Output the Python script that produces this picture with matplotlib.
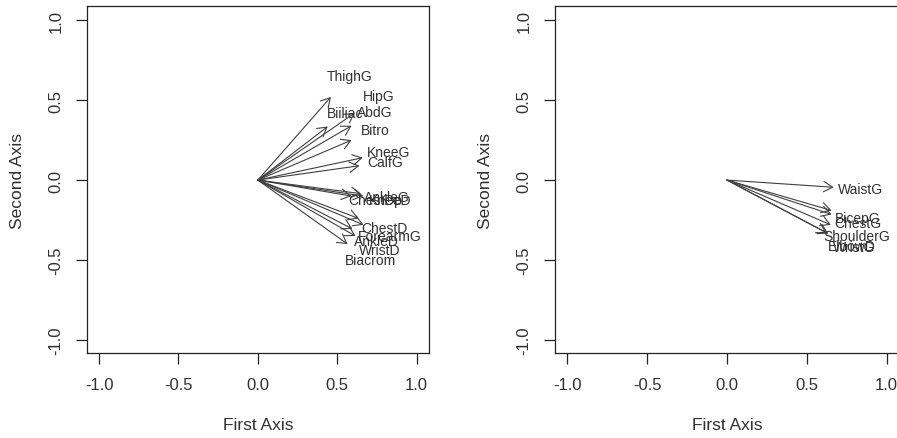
import matplotlib
matplotlib.use('Agg')
import matplotlib.pyplot as plt

plt.rcParams['font.family'] = ['Liberation Sans', 'DejaVu Sans']

# loadings on first two axes (arrow tips); labels drawn at 1.25 x tip
left_names = ['ThighG', 'HipG', 'AbdG', 'Biiliac', 'Bitro', 'KneeG', 'CalfG',
              'ChestDp', 'AnkleG', 'KneeD',
              'ChestD', 'ForearmG', 'AnkleD', 'WristD', 'Biacrom']
left_x = [0.46, 0.61, 0.59, 0.44, 0.59, 0.66, 0.64,
          0.59, 0.65, 0.665,
          0.635, 0.665, 0.595, 0.615, 0.565]
left_y = [0.52, 0.42, 0.34, 0.335, 0.25, 0.14, 0.09,
          -0.10, -0.085, -0.10,
          -0.24, -0.28, -0.305, -0.35, -0.40]

right_names = ['WaistG', 'BicepG', 'ChestG', 'ShoulderG', 'ElbowD', 'WristG']
right_x = [0.668, 0.655, 0.655, 0.65, 0.625, 0.635]
right_y = [-0.045, -0.19, -0.215, -0.28, -0.33, -0.335]

ticks = [-1.0, -0.5, 0.0, 0.5, 1.0]
tick_labels = ['-1.0', '-0.5', '0.0', '0.5', '1.0']

fig = plt.figure(figsize=(8.97, 4.39), dpi=100)
ax1 = fig.add_axes([0.097, 0.1936, 0.381, 0.790])
# right panel runs off the edge of the figure, as in the original
ax2 = fig.add_axes([0.619, 0.1936, 0.383, 0.790])

txt = '#303030'
for ax, names, xs, ys in [(ax1, left_names, left_x, left_y),
                          (ax2, right_names, right_x, right_y)]:
    ax.set_xlim(-1.076, 1.076)
    ax.set_ylim(-1.081, 1.087)
    for n, x, y in zip(names, xs, ys):
        ax.annotate('', xy=(x, y), xytext=(0, 0),
                    arrowprops=dict(arrowstyle='->,head_length=0.43,head_width=0.25',
                                    mutation_scale=15, color='#404040', lw=0.8,
                                    shrinkA=0, shrinkB=0))
        ax.text(1.25 * x, 1.25 * y, n, ha='center', va='center',
                fontsize=10, color=txt)
    ax.set_xticks(ticks)
    ax.set_xticklabels(tick_labels)
    ax.set_yticks(ticks)
    ax.set_yticklabels(tick_labels, rotation=90, va='center')
    ax.tick_params(length=8, width=0.9, pad=9, labelsize=12,
                   colors='#222222', labelcolor=txt)
    for s in ax.spines.values():
        s.set_color('#222222')
        s.set_linewidth(0.9)
    ax.set_xlabel('First Axis', fontsize=12.5, color=txt)
    ax.set_ylabel('Second Axis', fontsize=12.5, color=txt)
    ax.xaxis.label.set_va('center')
    ax.yaxis.label.set_va('center')
    ax.xaxis.set_label_coords(0.5, -0.2075)
    ax.yaxis.set_label_coords(-0.202, 0.5)

fig.savefig('out.png', dpi=100)
